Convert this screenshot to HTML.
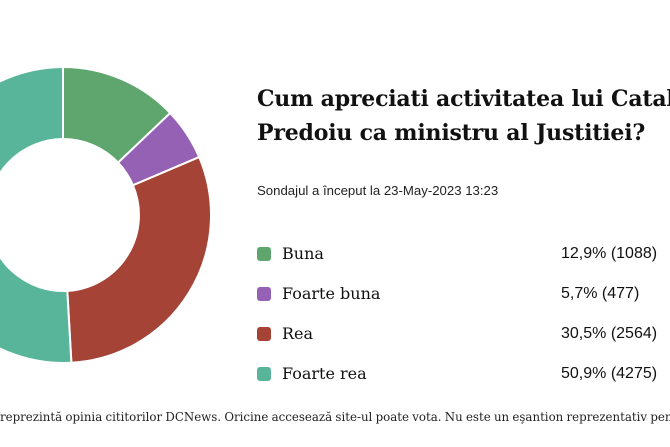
<!DOCTYPE html>
<html><head><meta charset="utf-8"><style>
html,body{margin:0;padding:0;background:#fff;width:670px;height:447px;overflow:hidden;position:relative}
.t{position:absolute;white-space:nowrap;color:#111}
.title{left:257px;top:82px;width:413px;overflow:hidden;font-family:"DejaVu Serif","Liberation Serif",serif;font-weight:bold;font-size:22px;line-height:34px;letter-spacing:-0.2px}
.sub{left:257px;top:183px;font-family:"Liberation Sans",sans-serif;font-size:13.2px;color:#222}
.lab{left:282px;font-family:"DejaVu Serif","Liberation Serif",serif;font-size:16px}
.val{left:561px;font-family:"Liberation Sans",sans-serif;font-size:16px}
.sq{position:absolute;left:257px;width:14px;height:14px;border-radius:3px}
.foot{left:0;top:410px;width:670px;overflow:hidden;font-family:"DejaVu Serif","Liberation Serif",serif;font-size:11.8px;word-spacing:-0.5px;color:#222}
</style></head><body>
<svg width="670" height="447" style="position:absolute;left:0;top:0">
<g stroke="#fff" stroke-width="2" stroke-linejoin="round">
<path d="M63,67 A148,148 0 0 1 170.2,113 L118.1,162.6 A76,76 0 0 0 63,139 Z" fill="#5ea66d"/>
<path d="M170.2,113 A148,148 0 0 1 199.2,157.1 L132.9,185.3 A76,76 0 0 0 118.1,162.6 Z" fill="#9461b5"/>
<path d="M199.2,157.1 A148,148 0 0 1 71.4,362.8 L67.3,290.9 A76,76 0 0 0 132.9,185.3 Z" fill="#a64337"/>
<path d="M71.4,362.8 A148,148 0 1 1 63,67 L63,139 A76,76 0 1 0 67.3,290.9 Z" fill="#58b59a"/>
</g></svg>
<div class="t title">Cum apreciati activitatea lui Catalin<br>Predoiu ca ministru al Justitiei?</div>
<div class="t sub">Sondajul a început la 23-May-2023 13:23</div>
<div class="sq" style="top:247px;background:#5ea66d"></div>
<div class="t lab" style="top:244px">Buna</div><div class="t val" style="top:245px">12,9% (1088)</div>
<div class="sq" style="top:287px;background:#9461b5"></div>
<div class="t lab" style="top:284px">Foarte buna</div><div class="t val" style="top:285px">5,7% (477)</div>
<div class="sq" style="top:327px;background:#a64337"></div>
<div class="t lab" style="top:324px">Rea</div><div class="t val" style="top:325px">30,5% (2564)</div>
<div class="sq" style="top:367px;background:#58b59a"></div>
<div class="t lab" style="top:364px">Foarte rea</div><div class="t val" style="top:365px">50,9% (4275)</div>
<div class="t foot">reprezintă opinia cititorilor DCNews. Oricine accesează site-ul poate vota. Nu este un eşantion reprezentativ pentru populaţie</div>
</body></html>
